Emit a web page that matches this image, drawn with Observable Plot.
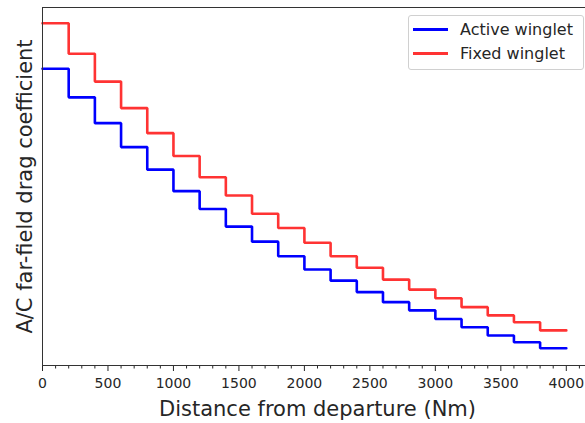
<!DOCTYPE html>
<html>
<head>
<meta charset="utf-8">
<script src="https://cdn.jsdelivr.net/npm/d3@7"></script>
<script src="https://cdn.jsdelivr.net/npm/@observablehq/plot@0.6"></script>
<style>
  html, body { margin: 0; padding: 0; background: #fff; overflow: hidden; }
  #wrap { position: relative; width: 585px; height: 423px; }
  #legend {
    position: absolute; left: 408px; top: 15px; width: 174px; height: 53px;
    border: 1px solid #d0d0d0; border-radius: 3px; background: rgba(255,255,255,0.8);
    font-family: "DejaVu Sans", sans-serif; font-size: 16px; color: #262626;
  }
  .row { position: absolute; left: 0; height: 20px; }
  .sw { position: absolute; left: 4px; width: 35px; height: 3px; }
  .lab { position: absolute; left: 51px; white-space: nowrap; line-height: 20px; }
</style>
</head>
<body>
<div id="wrap">
  <div id="chart"></div>
  <div id="legend"></div>
</div>
<script>
// Data
const distance = [0, 200, 400, 600, 800, 1000, 1200, 1400, 1600, 1800, 2000, 2200, 2400, 2600, 2800, 3000, 3200, 3400, 3600, 3800, 4000];
const activeWinglet = [0.829, 0.749, 0.677, 0.610, 0.547, 0.487, 0.437, 0.388, 0.346, 0.305, 0.268, 0.237, 0.205, 0.177, 0.154, 0.130, 0.107, 0.084, 0.065, 0.048, 0.048];
const fixedWinglet = [0.956, 0.871, 0.793, 0.719, 0.649, 0.585, 0.526, 0.475, 0.424, 0.384, 0.343, 0.305, 0.273, 0.240, 0.212, 0.188, 0.163, 0.140, 0.121, 0.098, 0.098];
const majorTicks = [0, 500, 1000, 1500, 2000, 2500, 3000, 3500, 4000];
const minorTicks = [100, 200, 300, 400, 600, 700, 800, 900, 1100, 1200, 1300, 1400, 1600, 1700, 1800, 1900, 2100, 2200, 2300, 2400, 2600, 2700, 2800, 2900, 3100, 3200, 3300, 3400, 3600, 3700, 3800, 3900, 4100];
const seriesNames = ["Active winglet", "Fixed winglet"];
const seriesColors = ["#0000ff", "#ff3333"];
const xLabel = "Distance from departure (Nm)";
const yLabel = "A/C far-field drag coefficient";

const rows = [];
distance.forEach((d, i) => {
  rows.push({x: d, y: activeWinglet[i], s: seriesNames[0]});
  rows.push({x: d, y: fixedWinglet[i], s: seriesNames[1]});
});

const font = "DejaVu Sans, sans-serif";
const ink = "#262626";

const chart = Plot.plot({
  width: 585,
  height: 423,
  marginLeft: 42,
  marginRight: -7,
  marginTop: 7,
  marginBottom: 58,
  style: {fontFamily: font, fontSize: "14px", color: ink, background: "#fff", overflow: "hidden"},
  x: {domain: [0, 4200]},
  y: {domain: [0, 1], axis: null},
  color: {domain: seriesNames, range: seriesColors},
  marks: [
    Plot.axisX(minorTicks, {tickSize: 3.5, tickFormat: null, text: null, stroke: ink, label: null}),
    Plot.axisX(majorTicks, {tickSize: 6, tickPadding: 7, tickFormat: d => String(d), fontSize: 14, fill: ink, stroke: ink, label: null}),
    Plot.line(rows, {x: "x", y: "y", z: "s", stroke: "s", curve: "step-after", strokeWidth: 2.6, strokeLinejoin: "miter"}),
    Plot.frame({stroke: "#333", strokeWidth: 1}),
    Plot.text([xLabel], {text: d => d, frameAnchor: "bottom", lineAnchor: "middle", textAnchor: "middle", dy: 44, fontSize: 21, fill: ink, fontFamily: font}),
    Plot.text([yLabel], {text: d => d, frameAnchor: "left", textAnchor: "middle", lineAnchor: "middle", rotate: -90, dx: -17, fontSize: 21, fill: ink, fontFamily: font})
  ]
});
document.getElementById("chart").appendChild(chart);

const legend = document.getElementById("legend");
seriesNames.forEach((name, i) => {
  const row = document.createElement("div");
  row.className = "row";
  row.style.top = (i === 0 ? 4 : 28) + "px";
  const sw = document.createElement("div");
  sw.className = "sw";
  sw.style.top = "8px";
  sw.style.background = seriesColors[i];
  const lab = document.createElement("div");
  lab.className = "lab";
  lab.textContent = name;
  row.appendChild(sw);
  row.appendChild(lab);
  legend.appendChild(row);
});
</script>
</body>
</html>
